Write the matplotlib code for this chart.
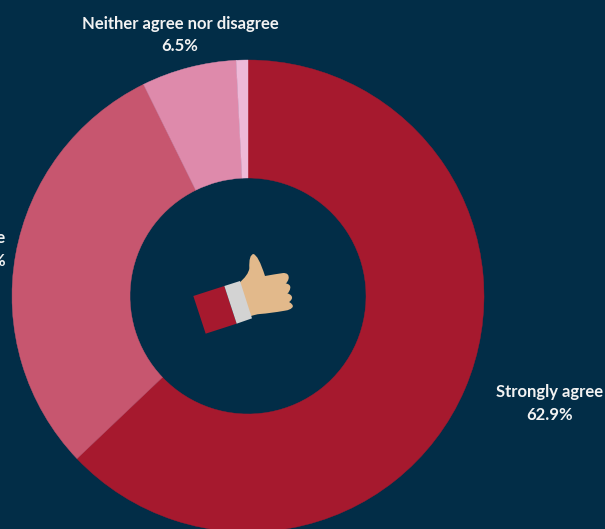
import matplotlib
matplotlib.use("Agg")
import matplotlib.pyplot as plt
from matplotlib.patches import Polygon, PathPatch
from matplotlib.path import Path

categories = ["Strongly agree", "Agree", "Neither agree nor disagree", "Disagree"]
values = [62.9, 29.8, 6.5, 0.8]
colors = ["#a6192e", "#c7566f", "#de8aab", "#eeb9d8"]

bg = "#022d47"
W, H = 605, 529

plt.rcParams["font.family"] = ["Lato", "Open Sans", "DejaVu Sans"]

fig = plt.figure(figsize=(W / 100, H / 100), dpi=100, facecolor=bg)
ax = fig.add_axes([0, 0, 1, 1])
ax.set_facecolor(bg)

# donut, clockwise from 12 o'clock
wedges, _ = ax.pie(values, colors=colors, startangle=90, counterclock=False,
                   center=(248, H - 296), radius=236,
                   wedgeprops={"width": 118})
# thin edge in the slice colour closes the antialiasing seams
for w, c in zip(wedges, colors):
    w.set_edgecolor(c)
    w.set_linewidth(0.3)
ax.set_xlim(0, W)
ax.set_ylim(0, H)
ax.set_aspect("equal")
ax.axis("off")


# icon outline is written in a local 3x grid, origin at (170, 235) from top left
def icon_xy(px, py):
    return 170 + px / 3, H - (235 + py / 3)


def icon_poly(points, color):
    ax.add_patch(Polygon([icon_xy(*p) for p in points], closed=True,
                         facecolor=color, edgecolor="none", zorder=4))


# thumbs-up hand, each finger knuckle is a quadratic segment
# it starts and ends under the cuff so no gap shows at the wrist
start = (205, 146)
curves = [((236, 120), (238, 100)), ((236, 60), (250, 57)),
          ((265, 60), (285, 123)), ((312, 118), (340, 114)),
          ((358, 114), (356, 130)), ((353, 143), (347, 145)),
          ((362, 148), (361, 158)), ((359, 172), (352, 175)),
          ((368, 180), (366, 190)), ((363, 198), (357, 201)),
          ((371, 208), (368, 216)), ((362, 225), (345, 227)),
          ((300, 235), (270, 237)), ((255, 238), (238, 245))]
verts = [icon_xy(*start)]
codes = [Path.MOVETO]
for ctrl, end in curves:
    verts += [icon_xy(*ctrl), icon_xy(*end)]
    codes += [Path.CURVE3, Path.CURVE3]
verts.append(verts[0])
codes.append(Path.CLOSEPOLY)
ax.add_patch(PathPatch(Path(verts, codes), facecolor="#e2b98b",
                       edgecolor="none", zorder=3))

# sleeve and cuff
icon_poly([(70, 183), (163, 153), (200, 266), (107, 296)], "#a6192e")
icon_poly([(163, 153), (210, 138), (246, 250), (200, 266)], "#d3d3d3")


def slice_label(x, y, name, val):
    ax.text(x, H - y, f"{name}\n{val}%", color="#f2f2f2", fontsize=12,
            fontweight="bold", ha="center", va="center", linespacing=1.52,
            clip_on=False)


slice_label(550, 403.5, categories[0], values[0])
slice_label(-17, 249.5, categories[1], values[1])
slice_label(180, 35, categories[2], values[2])

fig.savefig("out.png", dpi=100, facecolor=bg)
